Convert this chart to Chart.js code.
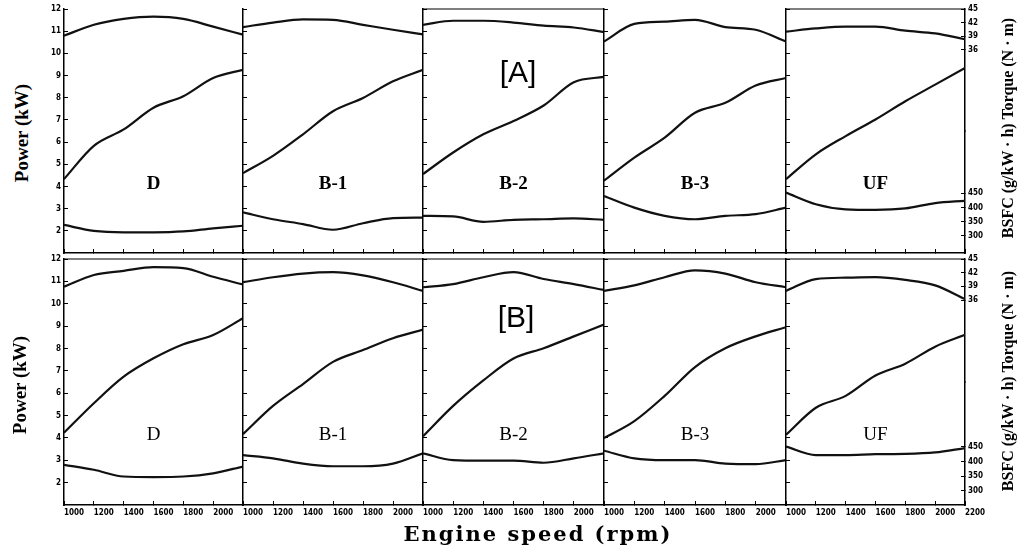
<!DOCTYPE html>
<html lang="en">
<head>
<meta charset="UTF-8">
<title>Engine performance curves</title>
<script src="https://cdn.jsdelivr.net/npm/chart.js"></script>
<style>
  body {
    margin: 0;
    width: 1025px;
    height: 550px;
    background: #fff;
    position: relative;
    overflow: hidden;
    font-family: 'Liberation Serif', serif;
    color: #000;
  }
  canvas { position: absolute; }
  .txt {
    position: absolute;
    white-space: nowrap;
    transform: translate(-50%, -50%);
  }
  .fuelA { font-size: 19px; font-weight: bold; }
  .fuelB { font-size: 19px; }
  .tag { font-family: 'Liberation Sans', sans-serif; font-size: 30px; }
  .ytitle { font-size: 19px; font-weight: bold; transform: translate(-50%, -50%) rotate(-90deg); }
  .rtitle { font-size: 16px; font-weight: bold; transform: translate(-50%, -50%) rotate(-90deg); }
  .xtitle { font-family: 'DejaVu Serif', serif; font-size: 21px; font-weight: bold; letter-spacing: 2px; }
</style>
</head>
<body>
<script>
// engine speed (rpm)
const rpm = [1000, 1200, 1400, 1600, 1800, 2000, 2200];
const fuels = ['D', 'B-1', 'B-2', 'B-3', 'UF'];

// tick labels
const rpmTicks = [1000, 1200, 1400, 1600, 1800, 2000, 2200];
const powerTicks = [2, 3, 4, 5, 6, 7, 8, 9, 10, 11, 12];
const torqueTicks = [36, 39, 42, 45];
const bsfcTicks = [300, 350, 400, 450];

// [A] power (kW), torque (N·m), BSFC (g/kW·h) per fuel
const powerA = [
  [4.33, 5.83, 6.57, 7.55, 8.07, 8.89, 9.26],
  [4.60, 5.38, 6.35, 7.39, 7.99, 8.74, 9.26],
  [4.56, 5.53, 6.35, 6.95, 7.65, 8.70, 8.94],
  [4.26, 5.30, 6.20, 7.32, 7.77, 8.55, 8.89],
  [4.33, 5.45, 6.27, 7.02, 7.84, 8.59, 9.34]
];
const torqueA = [
  [39.1, 41.5, 42.8, 43.3, 42.8, 41.1, 39.3],
  [41.0, 42.0, 42.7, 42.6, 41.5, 40.4, 39.4],
  [41.5, 42.4, 42.4, 42.0, 41.3, 40.9, 39.9],
  [37.8, 41.7, 42.2, 42.6, 41.0, 40.4, 37.8],
  [40.0, 40.7, 41.1, 41.1, 40.2, 39.6, 38.3]
];
const bsfcA = [
  [339, 318, 313, 313, 316, 327, 336],
  [383, 359, 342, 322, 345, 363, 365],
  [371, 369, 350, 357, 359, 362, 357],
  [441, 400, 371, 359, 371, 377, 400],
  [453, 412, 394, 392, 397, 416, 424]
];

// [B]
const powerB = [
  [4.23, 5.55, 6.74, 7.56, 8.19, 8.60, 9.35],
  [4.17, 5.43, 6.41, 7.40, 7.93, 8.46, 8.84],
  [4.07, 5.43, 6.57, 7.55, 8.01, 8.54, 9.07],
  [3.99, 4.75, 5.88, 7.17, 8.01, 8.54, 8.95],
  [4.14, 5.35, 5.88, 6.79, 7.32, 8.08, 8.61]
];
const torqueB = [
  [38.9, 41.5, 42.4, 43.2, 43.0, 41.1, 39.4],
  [39.9, 41.0, 41.8, 42.1, 41.4, 39.9, 38.0],
  [38.8, 39.5, 41.0, 42.1, 40.6, 39.5, 38.2],
  [38.0, 39.2, 41.0, 42.5, 41.8, 39.9, 38.8],
  [38.0, 40.6, 40.9, 41.0, 40.4, 39.2, 36.2]
];
const bsfcB = [
  [389, 372, 349, 347, 349, 360, 383],
  [422, 411, 393, 384, 384, 393, 428],
  [428, 405, 403, 403, 396, 411, 428],
  [437, 411, 405, 405, 393, 391, 405],
  [451, 422, 422, 425, 426, 431, 446]
];

// layout of the panel grid
const colX = [64, 243, 423, 604, 786, 965];
const rowY = [[9, 253], [259, 505]];
// right-hand axes share one column: torque on the upper half, BSFC on the lower half
const torqueRange = [18, 45];
const bsfcRange = [[240, 670], [252, 671]];
const topLine = [[false, false, true, false, true], [true, true, true, true, true]];

const tickFont = { family: "'Liberation Sans Narrow', 'DejaVu Sans Condensed', sans-serif", size: 8, weight: 'bold' };
const axisGrid = { drawOnChartArea: false, tickLength: -4, color: '#000', lineWidth: 1 };
const axisBorder = { color: '#000', width: 1.5 };

// fixed margins around every plot area, wider than any label needs
const padL = 30, padR = 34, padT = 16, padB = 18;

function fixTicks(values) {
  return function (scale) { scale.ticks = values.map(v => ({ value: v })); };
}

const framePlugin = {
  id: 'frame',
  afterDraw(chart, args, opts) {
    if (!opts.top) return;
    const a = chart.chartArea, ctx = chart.ctx;
    ctx.save();
    ctx.strokeStyle = '#000';
    ctx.lineWidth = 1.2;
    ctx.beginPath();
    ctx.moveTo(a.left, a.top);
    ctx.lineTo(a.right, a.top);
    ctx.stroke();
    ctx.restore();
  }
};

function line(data, axis) {
  return {
    data: data,
    yAxisID: axis,
    borderColor: '#111',
    borderWidth: 2.2,
    pointRadius: 0,
    cubicInterpolationMode: 'monotone',
    fill: false
  };
}

function makePanel(row, col, power, torque, bsfc) {
  const w = colX[col + 1] - colX[col] + padL + padR;
  const h = rowY[row][1] - rowY[row][0] + padT + padB;

  const cv = document.createElement('canvas');
  cv.width = w;
  cv.height = h;
  cv.style.left = (colX[col] - padL) + 'px';
  cv.style.top = (rowY[row][0] - padT) + 'px';
  document.body.appendChild(cv);

  new Chart(cv, {
    type: 'line',
    data: {
      labels: rpm,
      datasets: [
        line(rpm.map((x, i) => ({ x: x, y: torque[i] })), 'yT'),
        line(rpm.map((x, i) => ({ x: x, y: power[i] })), 'y'),
        line(rpm.map((x, i) => ({ x: x, y: bsfc[i] })), 'yB')
      ]
    },
    options: {
      responsive: false,
      animation: false,
      devicePixelRatio: 1,
      // the right-hand axes always take padR, shown or not
      layout: { padding: { top: padT, right: 0, left: 0, bottom: 0 } },
      plugins: { legend: { display: false }, tooltip: { enabled: false }, frame: { top: topLine[row][col] } },
      scales: {
        x: {
          type: 'linear', min: 1000, max: 2200,
          afterBuildTicks: fixTicks(rpmTicks),
          afterFit: s => { s.height = padB; },
          grid: axisGrid, border: axisBorder,
          ticks: {
            display: row === 1, font: tickFont, color: '#000', padding: 7, align: 'start',
            maxRotation: 0, autoSkip: false,
            callback: v => (v === 2200 && col < 4) ? '' : v
          }
        },
        y: {
          position: 'left', min: 1, max: 12,
          afterBuildTicks: fixTicks(powerTicks),
          afterFit: s => { s.width = padL; },
          grid: axisGrid, border: axisBorder,
          ticks: { display: col === 0, font: tickFont, color: '#000', padding: 7, autoSkip: false }
        },
        yT: {
          position: 'right', weight: 0, stack: 'right', stackWeight: 1, display: col === 4,
          min: torqueRange[0], max: torqueRange[1],
          afterBuildTicks: fixTicks(torqueTicks),
          afterFit: s => { s.width = padR; },
          grid: axisGrid, border: axisBorder,
          ticks: { font: tickFont, color: '#000', padding: 7, autoSkip: false }
        },
        yB: {
          position: 'right', weight: 1, stack: 'right', stackWeight: 1, display: col === 4,
          min: bsfcRange[row][0], max: bsfcRange[row][1],
          afterBuildTicks: fixTicks(bsfcTicks),
          afterFit: s => { s.width = padR; },
          grid: axisGrid, border: axisBorder,
          ticks: { font: tickFont, color: '#000', padding: 7, autoSkip: false }
        }
      }
    },
    plugins: [framePlugin]
  });
}

function text(str, cx, cy, cls) {
  const d = document.createElement('div');
  d.className = 'txt ' + cls;
  d.textContent = str;
  d.style.left = cx + 'px';
  d.style.top = cy + 'px';
  document.body.appendChild(d);
}

for (let c = 0; c < 5; c++) {
  makePanel(0, c, powerA[c], torqueA[c], bsfcA[c]);
  makePanel(1, c, powerB[c], torqueB[c], bsfcB[c]);
  const mid = (colX[c] + colX[c + 1]) / 2;
  text(fuels[c], mid, 183, 'fuelA');
  text(fuels[c], mid, 434, 'fuelB');
}

text('[A]', 518, 72, 'tag');
text('[B]', 516, 317, 'tag');
text('Power (kW)', 22, 133, 'ytitle');
text('Power (kW)', 20, 385, 'ytitle');
text('BSFC (g/kW · h) Torque (N · m)', 1008, 128, 'rtitle');
text('BSFC (g/kW · h) Torque (N · m)', 1008, 381, 'rtitle');
text('Engine speed (rpm)', 538, 533, 'xtitle');
</script>
</body>
</html>
